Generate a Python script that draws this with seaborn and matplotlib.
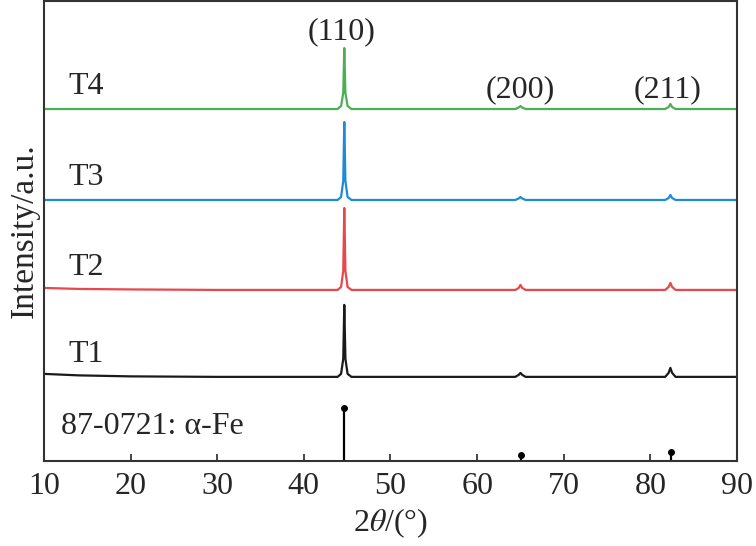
import pandas as pd
import numpy as np
import matplotlib
matplotlib.use("Agg")
import matplotlib.pyplot as plt
import seaborn as sns

# 2theta sample points (deg) shared by all patterns
two_theta = [10, 14, 20, 30, 43.9, 44.3, 44.55, 44.67, 44.8, 45.05, 45.5, 55,
             64.4, 64.8, 65.0, 65.2, 65.6, 75, 81.7, 82.1, 82.3, 82.5, 82.9, 90]

# intensities (arbitrary units, stacked)
t1 = [87, 85.5, 84.5, 84, 84, 87, 102, 156, 102, 87, 84, 84,
      84, 86, 88, 86, 84, 84, 84, 88, 93, 88, 84, 84]
t2 = [173, 172, 171.5, 171, 171, 174, 190, 253, 190, 174, 171, 171,
      171, 173, 176, 173, 171, 171, 171, 174, 178, 174, 171, 171]
t3 = [261, 261, 261, 261, 261, 264, 280, 339, 280, 264, 261, 261,
      261, 262.5, 264, 262.5, 261, 261, 261, 263, 266, 263, 261, 261]
t4 = [352, 352, 352, 352, 352, 355, 368, 413, 368, 355, 352, 352,
      352, 353.5, 355, 353.5, 352, 352, 352, 354, 357, 354, 352, 352]

samples = ["T1", "T2", "T3", "T4"]
colors = ["#1a1a1a", "#e8474b", "#1e8bd5", "#4caf55"]

# PDF card 87-0721 alpha-Fe
ref_pos = [44.67, 65.02, 82.33]
ref_int = [53, 6, 9]

hkl = ["(110)", "(200)", "(211)"]

rows = []
for name, vals in zip(samples, [t1, t2, t3, t4]):
    for x, y in zip(two_theta, vals):
        rows.append({"2theta": x, "I": y, "sample": name})
df = pd.DataFrame(rows)

sns.set_style("ticks")
plt.rcParams["font.family"] = ["Liberation Serif", "DejaVu Serif"]
plt.rcParams["mathtext.fontset"] = "stix"

fs = 23
fig = plt.figure(figsize=(7.56, 5.46), dpi=100)
ax = fig.add_axes([0.058, 0.156, 0.917, 0.842])

sns.lineplot(data=df, x="2theta", y="I", hue="sample", palette=colors,
             hue_order=samples, linewidth=1.6, legend=False, ax=ax)

ax.vlines(ref_pos, 0, ref_int, color="black", linewidth=1.6)
ax.scatter(ref_pos, ref_int, s=16, color="black", zorder=3)

ax.set_xlim(10, 90)
ax.set_ylim(0, 460)
ax.set_xticks(range(10, 91, 10))
ax.set_yticks([])
ax.tick_params(axis="x", direction="in", length=5, width=1.2, labelsize=fs, pad=8)
for sp in ax.spines.values():
    sp.set_linewidth(1.5)
    sp.set_color("#333333")

ax.set_xlabel(r"2$\theta$/(°)", fontsize=fs, labelpad=4)
ax.set_ylabel("Intensity/a.u.", fontsize=fs + 1, labelpad=3)

base = [84, 171, 261, 352]
for name, b in zip(samples, base):
    ax.text(12.8, b + 8, name, fontsize=fs, ha="left", va="bottom")
ax.text(12, 20, "87-0721: α-Fe", fontsize=fs, ha="left", va="bottom")

ax.text(ref_pos[0] - 0.3, 415, hkl[0], fontsize=fs, ha="center", va="bottom")
ax.text(ref_pos[1], 357, hkl[1], fontsize=fs, ha="center", va="bottom")
ax.text(ref_pos[2] - 0.3, 357, hkl[2], fontsize=fs, ha="center", va="bottom")

fig.savefig("out.png", dpi=100)
